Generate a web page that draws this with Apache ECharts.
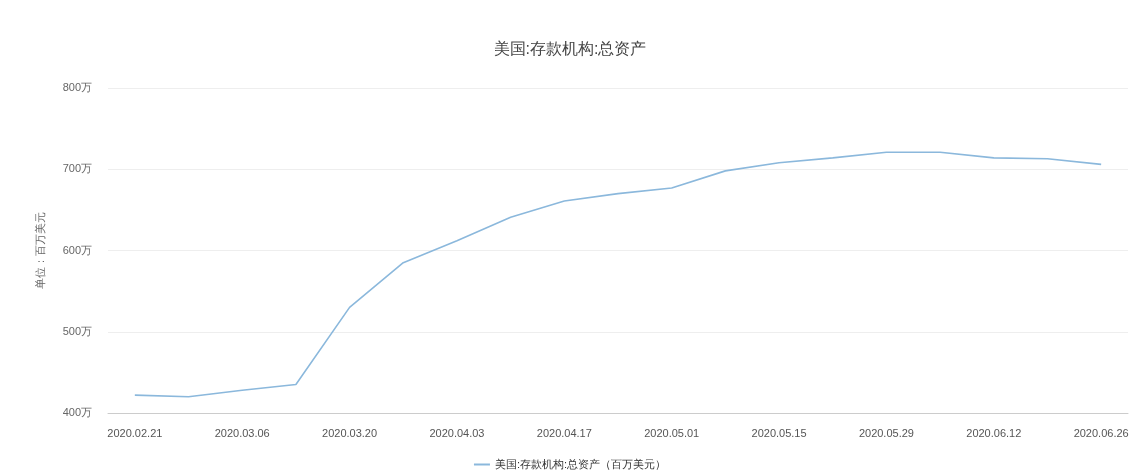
<!DOCTYPE html>
<html lang="zh-cn">
<head>
  <meta charset="utf-8">
  <title>美国:存款机构:总资产</title>
  <style>
    html, body { margin: 0; padding: 0; background: #fff; }
    #chart-box { width: 1140px; height: 474px; }
  </style>
</head>
<body>
  <div id="chart-box"></div>
  <script src="https://cdn.jsdelivr.net/npm/echarts@6/dist/echarts.min.js"></script>
  <script type="text/javascript">
    // 周度日期
    var dates = ['2020.02.21', '2020.02.28', '2020.03.06', '2020.03.13', '2020.03.20', '2020.03.27',
      '2020.04.03', '2020.04.10', '2020.04.17', '2020.04.24', '2020.05.01', '2020.05.08',
      '2020.05.15', '2020.05.22', '2020.05.29', '2020.06.05', '2020.06.12', '2020.06.19', '2020.06.26'];
    // 总资产（百万美元）
    var totalAssets = [4220000, 4200000, 4280000, 4350000, 5300000, 5850000,
      6120000, 6410000, 6610000, 6700000, 6770000, 6980000,
      7080000, 7140000, 7210000, 7210000, 7140000, 7130000, 7060000];
    var seriesName = '美国:存款机构:总资产（百万美元）';

    var chart = echarts.init(document.querySelector('#chart-box'));

    var options = {
      backgroundColor: '#fff',
      title: {
        text: '美国:存款机构:总资产',
        left: 'center',
        top: 37,
        textStyle: { fontSize: 16, fontWeight: 'normal', color: '#444' }
      },
      legend: {
        bottom: -1,
        left: 'center',
        itemWidth: 16,
        itemHeight: 2,
        icon: 'rect',
        textStyle: { fontSize: 11, color: '#333' },
        data: [seriesName]
      },
      grid: {
        left: 108,
        right: 12,
        top: 88,
        bottom: 61
      },
      xAxis: {
        type: 'category',
        boundaryGap: true,
        data: dates,
        axisLine: { lineStyle: { color: '#ccc' } },
        axisTick: { alignWithLabel: true, interval: 1, lineStyle: { color: '#ccc' } },
        axisLabel: { interval: 1, color: '#555', fontSize: 11, margin: 15 }
      },
      yAxis: {
        type: 'value',
        min: 4000000,
        max: 8000000,
        interval: 1000000,
        name: '单位：百万美元',
        nameLocation: 'middle',
        nameGap: 62,
        nameRotate: 90,
        nameTextStyle: { color: '#666', fontSize: 11 },
        axisLine: { show: false },
        axisTick: { show: false },
        axisLabel: {
          color: '#666',
          fontSize: 11,
          margin: 16,
          formatter: function (v) { return (v / 10000) + '万'; }
        },
        splitLine: { lineStyle: { color: '#eee' } }
      },
      series: [{
        name: seriesName,
        type: 'line',
        data: totalAssets,
        showSymbol: false,
        symbol: 'none',
        lineStyle: { color: '#8bb8dc', width: 1.6 },
        itemStyle: { color: '#8bb8dc' }
      }]
    };

    chart.setOption(options);
  </script>
</body>
</html>
